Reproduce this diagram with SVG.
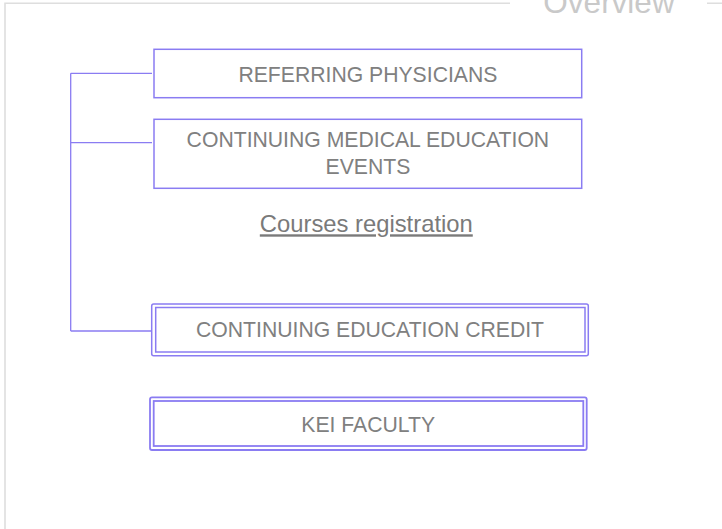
<svg xmlns="http://www.w3.org/2000/svg" width="722" height="529" viewBox="0 0 722 529">
<style>
.frame{fill:none;stroke:#dedede;stroke-width:1.6}
.box{fill:#fff;stroke:#8a7cf2;stroke-width:1.5}
.conn{fill:none;stroke:#8a7cf2;stroke-width:1.3}
.t{font-family:"Liberation Sans",Arial,sans-serif;font-size:21.2px;fill:#808080;text-anchor:middle}
.legend{font-family:"Liberation Sans",Arial,sans-serif;font-size:31.5px;fill:#c9c9c9;text-anchor:middle}
.link{font-family:"Liberation Sans",Arial,sans-serif;font-size:23.8px;fill:#7a7a7a;text-anchor:middle;text-decoration:underline}
</style>
<rect width="722" height="529" fill="#fff"/>
<g id="frame">
<path class="frame" d="M5,529 V3.3 H510 M707,3.3 H722"/>
<text class="legend" x="609" y="13">Overview</text>
</g>
<g id="connectors">
<path class="conn" d="M70.7,73.3 V331 M70.7,73.3 H152 M70.7,142.7 H152 M70.7,331 H152"/>
</g>
<g id="referring-physicians">
<rect class="box" x="154" y="49.3" width="427.7" height="48.4"/>
<text class="t" x="367.9" y="81.7">REFERRING PHYSICIANS</text>
</g>
<g id="cme-events">
<rect class="box" x="154" y="119.3" width="427.7" height="69"/>
<text class="t" x="367.9" y="146.7">CONTINUING MEDICAL EDUCATION</text>
<text class="t" x="367.9" y="174.3">EVENTS</text>
</g>
<g id="courses-registration">
<text class="link" x="366.3" y="232.3">Courses registration</text>
</g>
<g id="continuing-education-credit">
<rect class="box" x="151.7" y="304" width="436.6" height="51.7" rx="2"/>
<rect class="box" x="155.7" y="307.5" width="429.3" height="44.5"/>
<text class="t" x="370" y="337.3">CONTINUING EDUCATION CREDIT</text>
</g>
<g id="kei-faculty">
<rect class="box" x="150" y="397.3" width="436.7" height="52.7" rx="2" style="stroke-width:1.8"/>
<rect class="box" x="153.7" y="401" width="429.6" height="45" style="stroke-width:1.8"/>
<text class="t" x="368.2" y="432.3">KEI FACULTY</text>
</g>
</svg>
